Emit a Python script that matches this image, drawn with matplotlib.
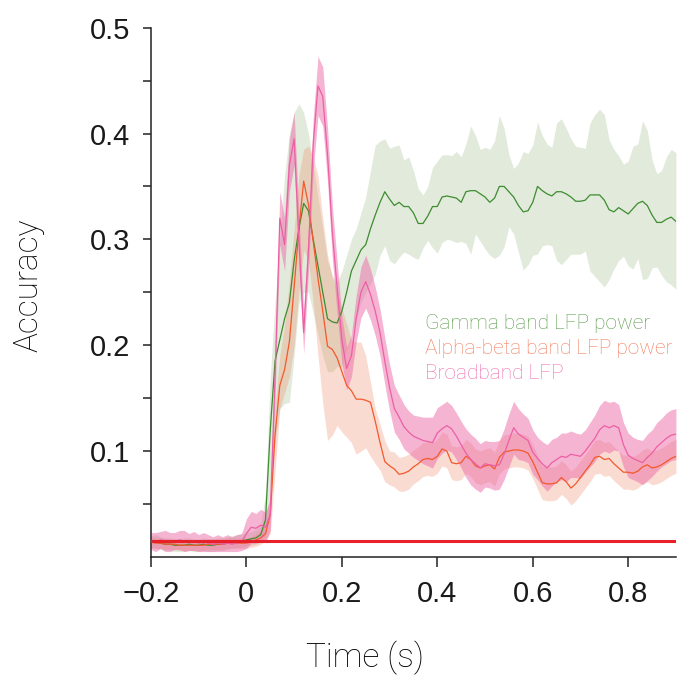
import numpy as np
import matplotlib
matplotlib.use("Agg")
import matplotlib.pyplot as plt

# time axis (s), 10 ms steps from -0.2 to 0.9
t = np.round(np.arange(-0.2, 0.9001, 0.01), 2)

chance = 0.015

# Gamma band LFP power
gamma_mean = [
    0.014, 0.014, 0.013, 0.012, 0.012, 0.011, 0.011, 0.011, 0.012, 0.011,
    0.011, 0.012, 0.011, 0.011, 0.012, 0.012, 0.013, 0.014, 0.015, 0.015,
    0.016, 0.017, 0.018, 0.021, 0.035, 0.120, 0.185, 0.205, 0.225, 0.240,
    0.280, 0.310, 0.334, 0.327, 0.300, 0.275, 0.250, 0.225, 0.222, 0.221,
    0.232, 0.250, 0.270, 0.280, 0.290, 0.295, 0.310, 0.323, 0.335, 0.345,
    0.338, 0.332, 0.335, 0.331, 0.331, 0.325, 0.315, 0.315, 0.322, 0.331,
    0.331, 0.340, 0.341, 0.340, 0.339, 0.335, 0.345, 0.346, 0.346, 0.343,
    0.340, 0.335, 0.339, 0.350, 0.350, 0.345, 0.340, 0.332, 0.326, 0.327,
    0.335, 0.350, 0.346, 0.343, 0.341, 0.345, 0.345, 0.343, 0.340, 0.336,
    0.336, 0.337, 0.342, 0.342, 0.342, 0.337, 0.328, 0.326, 0.330, 0.327,
    0.324, 0.329, 0.334, 0.336, 0.332, 0.323, 0.316, 0.316, 0.319, 0.321, 0.317,
]
gamma_hi = [
    0.020, 0.021, 0.019, 0.018, 0.018, 0.017, 0.017, 0.018, 0.018, 0.017,
    0.017, 0.018, 0.017, 0.017, 0.018, 0.018, 0.019, 0.020, 0.021, 0.022,
    0.023, 0.024, 0.026, 0.030, 0.060, 0.170, 0.240, 0.300, 0.360, 0.400,
    0.420, 0.428, 0.420, 0.400, 0.370, 0.340, 0.310, 0.280, 0.265, 0.260,
    0.270, 0.285, 0.300, 0.310, 0.325, 0.340, 0.365, 0.389, 0.393, 0.395,
    0.386, 0.388, 0.389, 0.375, 0.378, 0.365, 0.348, 0.342, 0.350, 0.368,
    0.374, 0.380, 0.380, 0.379, 0.383, 0.378, 0.390, 0.407, 0.398, 0.385,
    0.387, 0.385, 0.393, 0.417, 0.405, 0.380, 0.367, 0.372, 0.383, 0.381,
    0.389, 0.411, 0.398, 0.390, 0.387, 0.410, 0.414, 0.405, 0.395, 0.388,
    0.387, 0.386, 0.410, 0.418, 0.423, 0.418, 0.394, 0.385, 0.379, 0.371,
    0.374, 0.388, 0.390, 0.412, 0.403, 0.375, 0.362, 0.365, 0.378, 0.385, 0.382,
]
gamma_lo = [
    0.008, 0.008, 0.007, 0.006, 0.006, 0.005, 0.005, 0.005, 0.006, 0.005,
    0.005, 0.006, 0.005, 0.005, 0.006, 0.006, 0.007, 0.008, 0.009, 0.009,
    0.010, 0.011, 0.012, 0.014, 0.020, 0.060, 0.110, 0.140, 0.145, 0.146,
    0.190, 0.240, 0.250, 0.250, 0.230, 0.210, 0.190, 0.175, 0.175, 0.180,
    0.180, 0.195, 0.210, 0.225, 0.240, 0.250, 0.258, 0.267, 0.285, 0.294,
    0.280, 0.277, 0.283, 0.288, 0.286, 0.283, 0.281, 0.292, 0.299, 0.292,
    0.287, 0.297, 0.300, 0.299, 0.297, 0.298, 0.296, 0.286, 0.305, 0.298,
    0.291, 0.285, 0.282, 0.285, 0.293, 0.312, 0.305, 0.288, 0.271, 0.276,
    0.285, 0.286, 0.294, 0.295, 0.294, 0.280, 0.276, 0.281, 0.286, 0.286,
    0.286, 0.289, 0.270, 0.265, 0.260, 0.255, 0.262, 0.272, 0.280, 0.284,
    0.275, 0.272, 0.282, 0.262, 0.263, 0.273, 0.274, 0.266, 0.260, 0.257, 0.253,
]

# Alpha-beta band LFP power
alpha_mean = [
    0.014, 0.013, 0.013, 0.012, 0.012, 0.012, 0.011, 0.011, 0.011, 0.011,
    0.011, 0.011, 0.012, 0.012, 0.012, 0.012, 0.013, 0.013, 0.013, 0.013,
    0.013, 0.014, 0.016, 0.018, 0.022, 0.040, 0.115, 0.162, 0.177, 0.203,
    0.255, 0.310, 0.355, 0.333, 0.298, 0.263, 0.232, 0.199, 0.196, 0.188,
    0.175, 0.162, 0.157, 0.149, 0.149, 0.148, 0.146, 0.128, 0.108, 0.090,
    0.086, 0.083, 0.078, 0.079, 0.081, 0.085, 0.088, 0.092, 0.093, 0.092,
    0.095, 0.102, 0.100, 0.089, 0.088, 0.089, 0.095, 0.092, 0.086, 0.084,
    0.086, 0.087, 0.083, 0.094, 0.099, 0.100, 0.101, 0.101, 0.100, 0.098,
    0.090, 0.080, 0.070, 0.069, 0.069, 0.070, 0.075, 0.071, 0.065, 0.069,
    0.075, 0.081, 0.087, 0.094, 0.095, 0.092, 0.093, 0.088, 0.084, 0.080,
    0.080, 0.079, 0.081, 0.085, 0.087, 0.084, 0.085, 0.087, 0.090, 0.093, 0.095,
]
alpha_hi = [
    0.019, 0.018, 0.018, 0.017, 0.017, 0.017, 0.016, 0.016, 0.016, 0.016,
    0.016, 0.016, 0.017, 0.017, 0.017, 0.017, 0.018, 0.018, 0.018, 0.018,
    0.018, 0.019, 0.022, 0.025, 0.030, 0.060, 0.140, 0.190, 0.220, 0.260,
    0.310, 0.360, 0.385, 0.388, 0.377, 0.360, 0.320, 0.285, 0.265, 0.250,
    0.235, 0.220, 0.205, 0.203, 0.203, 0.190, 0.165, 0.140, 0.125, 0.110,
    0.100, 0.099, 0.094, 0.095, 0.097, 0.101, 0.104, 0.108, 0.109, 0.108,
    0.111, 0.118, 0.116, 0.105, 0.104, 0.105, 0.111, 0.108, 0.102, 0.100,
    0.102, 0.103, 0.099, 0.110, 0.115, 0.116, 0.117, 0.117, 0.116, 0.114,
    0.106, 0.096, 0.086, 0.085, 0.085, 0.086, 0.091, 0.087, 0.081, 0.085,
    0.091, 0.097, 0.103, 0.110, 0.111, 0.108, 0.109, 0.104, 0.100, 0.096,
    0.096, 0.095, 0.097, 0.101, 0.103, 0.100, 0.101, 0.103, 0.106, 0.109, 0.111,
]
alpha_lo = [
    0.009, 0.008, 0.008, 0.007, 0.007, 0.007, 0.006, 0.006, 0.006, 0.006,
    0.006, 0.006, 0.007, 0.007, 0.007, 0.007, 0.008, 0.008, 0.008, 0.008,
    0.008, 0.009, 0.010, 0.012, 0.015, 0.022, 0.080, 0.140, 0.155, 0.170,
    0.200, 0.250, 0.290, 0.280, 0.240, 0.190, 0.145, 0.110, 0.115, 0.124,
    0.118, 0.113, 0.108, 0.097, 0.100, 0.103, 0.095, 0.088, 0.082, 0.071,
    0.068, 0.066, 0.062, 0.062, 0.064, 0.069, 0.072, 0.076, 0.077, 0.076,
    0.079, 0.086, 0.084, 0.073, 0.072, 0.073, 0.079, 0.076, 0.070, 0.068,
    0.070, 0.071, 0.067, 0.078, 0.083, 0.084, 0.085, 0.085, 0.084, 0.082,
    0.074, 0.064, 0.054, 0.053, 0.053, 0.054, 0.059, 0.055, 0.049, 0.053,
    0.059, 0.065, 0.071, 0.078, 0.079, 0.076, 0.077, 0.072, 0.068, 0.064,
    0.064, 0.063, 0.065, 0.069, 0.071, 0.068, 0.069, 0.071, 0.074, 0.077, 0.079,
]

# Broadband LFP
broad_mean = [
    0.015, 0.014, 0.016, 0.015, 0.014, 0.015, 0.016, 0.015, 0.014, 0.015,
    0.013, 0.014, 0.013, 0.012, 0.013, 0.012, 0.013, 0.012, 0.013, 0.014,
    0.022, 0.028, 0.027, 0.030, 0.028, 0.040, 0.170, 0.320, 0.295, 0.370,
    0.395, 0.300, 0.212, 0.290, 0.390, 0.445, 0.435, 0.380, 0.307, 0.255,
    0.205, 0.178, 0.190, 0.225, 0.250, 0.260, 0.248, 0.232, 0.212, 0.185,
    0.160, 0.140, 0.132, 0.123, 0.118, 0.114, 0.112, 0.110, 0.109, 0.108,
    0.117, 0.121, 0.124, 0.121, 0.114, 0.106, 0.098, 0.092, 0.088, 0.084,
    0.088, 0.087, 0.086, 0.087, 0.097, 0.110, 0.122, 0.116, 0.113, 0.110,
    0.099, 0.093, 0.088, 0.084, 0.089, 0.092, 0.095, 0.094, 0.097, 0.096,
    0.095, 0.100, 0.106, 0.112, 0.120, 0.124, 0.122, 0.124, 0.122, 0.106,
    0.096, 0.093, 0.091, 0.089, 0.094, 0.098, 0.104, 0.108, 0.112, 0.115, 0.116,
]
broad_err = [
    0.008, 0.009, 0.008, 0.010, 0.009, 0.008, 0.009, 0.010, 0.008, 0.009,
    0.008, 0.009, 0.008, 0.007, 0.008, 0.007, 0.008, 0.007, 0.008, 0.008,
    0.014, 0.015, 0.014, 0.015, 0.014, 0.015, 0.020, 0.025, 0.025, 0.025,
    0.025, 0.025, 0.020, 0.020, 0.025, 0.028, 0.028, 0.025, 0.025, 0.025,
    0.022, 0.020, 0.020, 0.022, 0.024, 0.025, 0.024, 0.023, 0.022, 0.022,
    0.022, 0.022, 0.021, 0.021, 0.020, 0.020, 0.021, 0.022, 0.023, 0.024,
    0.024, 0.023, 0.023, 0.022, 0.022, 0.022, 0.023, 0.024, 0.024, 0.023,
    0.022, 0.022, 0.023, 0.023, 0.024, 0.025, 0.025, 0.024, 0.022, 0.021,
    0.021, 0.020, 0.021, 0.022, 0.022, 0.021, 0.022, 0.023, 0.022, 0.021,
    0.021, 0.020, 0.021, 0.022, 0.023, 0.024, 0.024, 0.023, 0.022, 0.021,
    0.021, 0.020, 0.020, 0.021, 0.022, 0.022, 0.023, 0.023, 0.024, 0.024, 0.024,
]

labels = ["Gamma band LFP power", "Alpha-beta band LFP power", "Broadband LFP"]
line_cols = ["#3d8c2f", "#f2592b", "#ec5fa5"]
band_cols = ["#8aae70", "#f08a6a", "#ee6aa8"]
band_alpha = [0.25, 0.30, 0.50]
text_cols = ["#5a9c4b", "#f37a59", "#ee6cb0"]

broad_mean = np.array(broad_mean)
broad_err = np.array(broad_err)
series = [
    (gamma_mean, gamma_lo, gamma_hi),
    (alpha_mean, alpha_lo, alpha_hi),
    (broad_mean, broad_mean - broad_err, broad_mean + broad_err),
]

fig = plt.figure(figsize=(6.8, 6.75), dpi=100)
ax = fig.add_axes([0.222, 0.175, 0.772, 0.784])

for (m, lo, hi), bc, ba in zip(series, band_cols, band_alpha):
    ax.fill_between(t, lo, hi, color=bc, alpha=ba, lw=0)
for (m, lo, hi), lc in zip(series, line_cols):
    ax.plot(t, m, color=lc, lw=0.9)

ax.axhline(chance, color="#e8202a", lw=2.2, zorder=5)

ax.set_xlim(-0.2, 0.9)
ax.set_ylim(0, 0.5)
ax.set_xticks([-0.2, 0, 0.2, 0.4, 0.6, 0.8])
ax.set_xticklabels(["\u22120.2", "0", "0.2", "0.4", "0.6", "0.8"])
ax.set_yticks([0.1, 0.2, 0.3, 0.4, 0.5])
ax.set_yticklabels(["0.1", "0.2", "0.3", "0.4", "0.5"])
ax.set_yticks([0.05, 0.15, 0.25, 0.35, 0.45], minor=True)

for s in ["top", "right"]:
    ax.spines[s].set_visible(False)
for s in ["left", "bottom"]:
    ax.spines[s].set_color("#222222")
    ax.spines[s].set_linewidth(1.1)

ax.tick_params(axis="x", length=7.5, width=1.1, color="#222222", pad=9)
ax.tick_params(axis="y", which="both", length=6, width=1.1, color="#222222", pad=9)
for lab in ax.get_xticklabels() + ax.get_yticklabels():
    lab.set_fontfamily("Liberation Sans")
    lab.set_fontsize(21)
    lab.set_color("#1a1a1a")

ax.set_xlabel("Time (s)", fontsize=24, family="Roboto", fontweight="light", color="black")
ax.set_ylabel("Accuracy", fontsize=24, family="Roboto", fontweight="light", color="black")
ax.xaxis.set_label_coords(0.408, -0.159)
ax.yaxis.set_label_coords(-0.202, 0.514)

for i, (lab, tc) in enumerate(zip(labels, text_cols)):
    ax.text(0.522, 0.431 - i * 0.0475, lab, transform=ax.transAxes,
            fontsize=15, family="Roboto", fontweight="light", color=tc,
            ha="left", va="baseline")

fig.savefig("out.png", dpi=100)
